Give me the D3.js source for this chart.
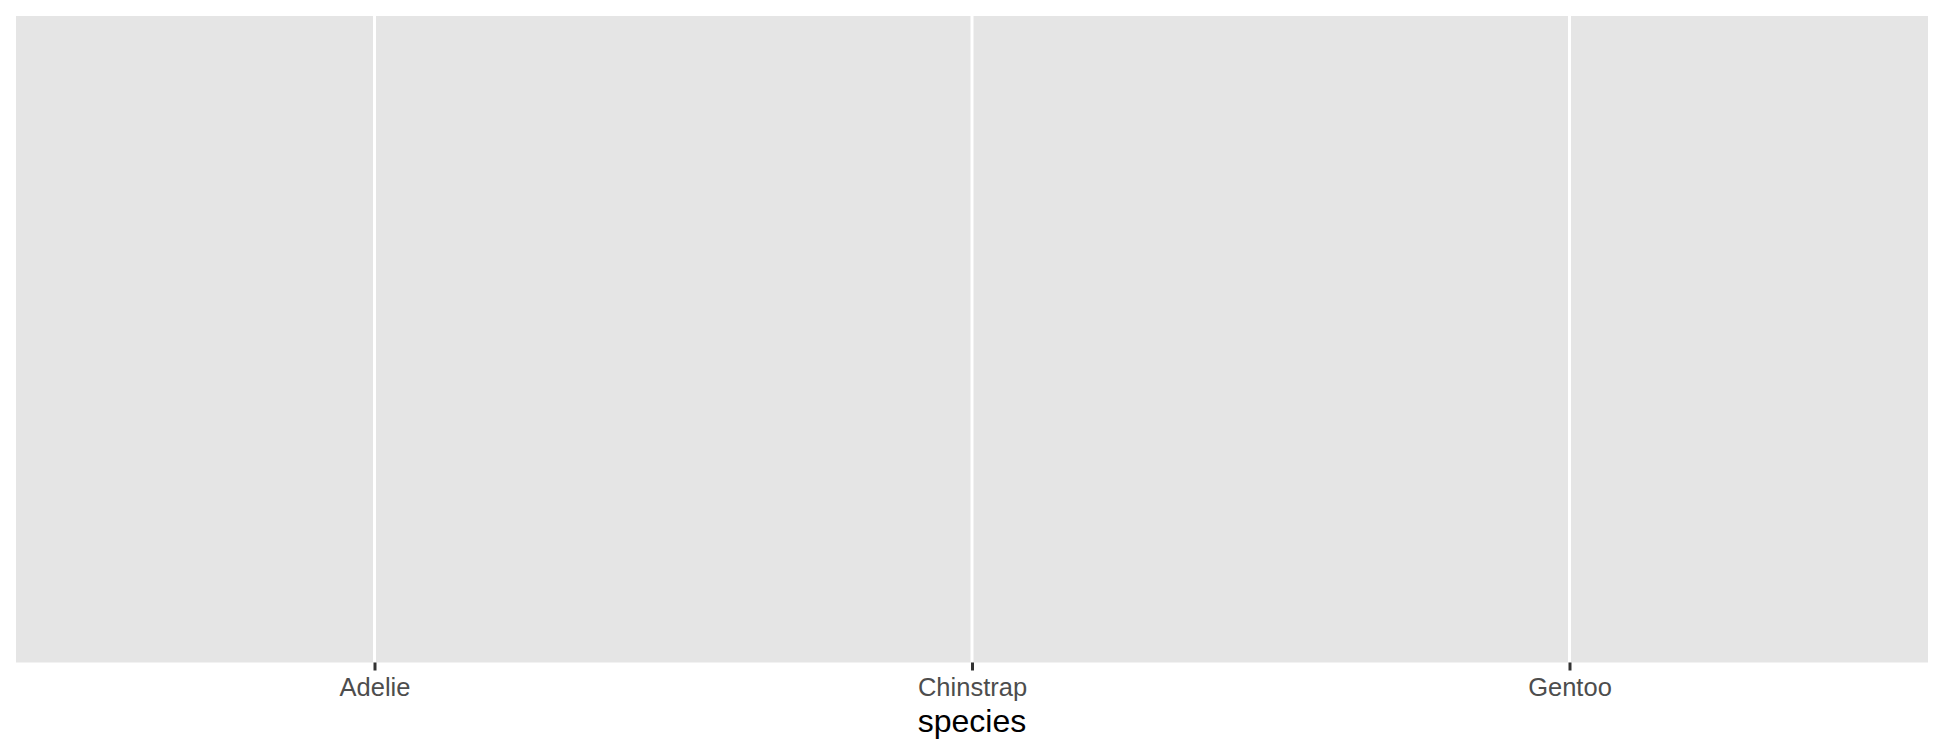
<!DOCTYPE html>
<html>
<head>
<meta charset="utf-8">
<script src="https://cdn.jsdelivr.net/npm/d3@7"></script>
<style>
  html, body { margin: 0; padding: 0; background: #ffffff; }
  svg { display: block; font-family: "Liberation Sans", Arial, sans-serif; }
</style>
</head>
<body>
<svg id="chart" width="1944" height="756"></svg>
<script>
const categories = ["Adelie", "Chinstrap", "Gentoo"];
const xTitle = "species";

const W = 1944, H = 756;
const panel = { left: 16, right: 1928, top: 16, bottom: 662.5 };

const svg = d3.select("#chart");

const x = d3.scalePoint()
  .domain(categories)
  .range([panel.left, panel.right])
  .padding(0.6);

// Panel background
svg.append("rect")
  .attr("x", panel.left)
  .attr("y", panel.top)
  .attr("width", panel.right - panel.left)
  .attr("height", panel.bottom - panel.top)
  .attr("fill", "#E5E5E5");

// Vertical major gridlines
svg.append("g")
  .selectAll("line")
  .data(categories)
  .join("line")
  .attr("x1", d => x(d))
  .attr("x2", d => x(d))
  .attr("y1", panel.top)
  .attr("y2", panel.bottom)
  .attr("stroke", "#FFFFFF")
  .attr("stroke-width", 3);

// X axis
const axis = d3.axisBottom(x).tickSize(8).tickPadding(7);
const gAxis = svg.append("g")
  .attr("transform", `translate(0,${panel.bottom})`)
  .call(axis);
gAxis.select(".domain").remove();
gAxis.selectAll(".tick line")
  .attr("stroke", "#333333")
  .attr("stroke-width", 3);
gAxis.selectAll(".tick text")
  .attr("fill", "#4D4D4D")
  .attr("font-size", 25.5)
  .attr("dy", null)
  .attr("y", null)
  .attr("dominant-baseline", "auto")
  .attr("transform", `translate(0,${696.3 - panel.bottom})`);

// X axis title
svg.append("text")
  .attr("x", (panel.left + panel.right) / 2)
  .attr("y", 731.5)
  .attr("text-anchor", "middle")
  .attr("fill", "#000000")
  .attr("font-size", 32)
  .text(xTitle);
</script>
</body>
</html>
